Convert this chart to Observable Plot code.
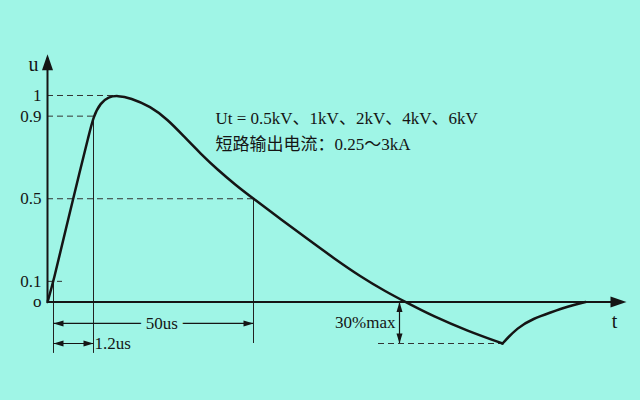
<!DOCTYPE html>
<html>
<head>
<meta charset="utf-8">
<script src="https://cdn.jsdelivr.net/npm/d3@7"></script>
<script src="https://cdn.jsdelivr.net/npm/@observablehq/plot@0.6"></script>
<style>
  html, body { margin: 0; padding: 0; background: #9ff5e6; }
  #chart { width: 640px; height: 400px; }
</style>
</head>
<body>
<div id="chart"></div>
<script>
// ---- data (time in diagram units, u relative to peak) ----
const waveT = [0, 1.5, 4.5, 8.25, 10.25, 11.5, 13.25, 15.25, 17.5, 20.75, 25.75, 30, 34, 38.25, 42.5, 47, 51.5, 58.25, 65, 71.5, 78.25, 84.5, 89.5, 96.5, 105, 113.75];
const waveU = [0, 0.1, 0.347, 0.646, 0.801, 0.9, 0.964, 0.993, 1.0, 0.988, 0.947, 0.884, 0.804, 0.719, 0.641, 0.567, 0.5, 0.402, 0.305, 0.213, 0.123, 0.051, 0, -0.07, -0.14, -0.201];
const tailT = [113.75, 117.5, 121.5, 125.75, 130, 134.5];
const tailU = [-0.201, -0.123, -0.08, -0.051, -0.022, 0];

const levelLabels = ["o", "0.1", "0.5", "0.9", "1"];
const levelValues = [0, 0.1, 0.5, 0.9, 1];

// key instants / levels
const t10 = 1.5, t90 = 11.5, tPeak = 17.5, t50 = 51.5, tUnder = 88, tMin = 113.75;
const uMin = -0.201;
const tAxisEnd = 144.75, uAxisEnd = 1.2;

const dimLabels = ["50us", "1.2us", "30%max"];
const infoLines = ["Ut = 0.5kV、1kV、2kV、4kV、6kV", "短路输出电流：0.25～3kA"];

// ---- build tables ----
const wave = waveT.map((t, i) => ({t, u: waveU[i], seg: "a"}))
  .concat(tailT.map((t, i) => ({t, u: tailU[i], seg: "b"})));

const guides = [
  {u: 1, t1: 0, t2: tPeak},
  {u: 0.9, t1: 0, t2: t90},
  {u: 0.5, t1: 0, t2: t50},
  {u: 0.1, t1: 0, t2: 3.75},
  {u: uMin, t1: 82.75, t2: tMin}
];
const verticals = [
  {t: t10, u1: 0.1, u2: -0.249},
  {t: t90, u1: 0.9, u2: -0.249},
  {t: t50, u1: 0.5, u2: uMin}
];
const uDim50 = -0.104;
const dims = [
  {u: uDim50, t1: t10, t2: t50},
  {u: uMin, t1: t10, t2: t90}
];

const bigHead = {draw(ctx) { ctx.moveTo(0, 0); ctx.lineTo(5.5, 16); ctx.lineTo(-5.5, 16); ctx.closePath(); }};
const smallHead = {draw(ctx) { ctx.moveTo(0, 0); ctx.lineTo(3, 10); ctx.lineTo(-3, 10); ctx.closePath(); }};

const bigHeads = [{t: 0, u: uAxisEnd, r: 0}, {t: tAxisEnd, u: 0, r: 90}];
const smallHeads = [
  {t: t10, u: uDim50, r: -90}, {t: t50, u: uDim50, r: 90},
  {t: t10, u: uMin, r: -90}, {t: t90, u: uMin, r: 90},
  {t: tUnder, u: 0, r: 0}, {t: tUnder, u: uMin, r: 180}
];

const ink = "#151515";
const bg = "#9ff5e6";
const serif = "'Liberation Serif', 'Times New Roman', 'Noto Sans CJK SC', serif";

const chart = Plot.plot({
  width: 640,
  height: 400,
  margin: 0,
  style: {background: bg, fontFamily: serif},
  x: {domain: [-11.75, 148.25], axis: null},
  y: {domain: [-0.477, 1.46], axis: null},
  marks: [
    Plot.ruleY(guides, {y: "u", x1: "t1", x2: "t2", stroke: "#333", strokeWidth: 1, strokeDasharray: "6,4"}),
    Plot.ruleX(verticals, {x: "t", y1: "u1", y2: "u2", stroke: "#222", strokeWidth: 1}),
    Plot.ruleY(dims, {y: "u", x1: "t1", x2: "t2", stroke: ink, strokeWidth: 1.2}),
    Plot.ruleX([tUnder], {x: d => d, y1: 0, y2: uMin, stroke: ink, strokeWidth: 1.2}),
    Plot.ruleY([0], {y: d => d, x1: 0, x2: tAxisEnd - 2, stroke: ink, strokeWidth: 2}),
    Plot.ruleX([0], {x: d => d, y1: 0, y2: uAxisEnd - 0.02, stroke: ink, strokeWidth: 2}),
    Plot.line(wave, {x: "t", y: "u", z: "seg", curve: "basis", stroke: ink, strokeWidth: 2.5}),
    Plot.dot(bigHeads, {x: "t", y: "u", rotate: "r", symbol: bigHead, fill: ink, stroke: "none"}),
    Plot.dot(smallHeads, {x: "t", y: "u", rotate: "r", symbol: smallHead, fill: ink, stroke: "none"}),
    Plot.text(levelLabels, {x: -1.5, y: (d, i) => levelValues[i], text: d => d, textAnchor: "end", fontSize: 17, fill: ink, fontFamily: serif}),
    Plot.text(["u"], {x: -3.5, y: 1.15, text: d => d, fontSize: 20, fill: ink, fontFamily: serif}),
    Plot.text(["t"], {x: 141.75, y: -0.094, text: d => d, fontSize: 20, fill: ink, fontFamily: serif}),
    Plot.text(infoLines, {x: 42, y: (d, i) => [0.889, 0.763][i], text: d => d, textAnchor: "start", fontSize: 17, fill: ink, fontFamily: serif}),
    Plot.text([dimLabels[0]], {x: 28.6, y: uDim50, text: d => d, fontSize: 17, fill: ink, fontFamily: serif, stroke: bg, strokeWidth: 12, paintOrder: "stroke"}),
    Plot.text([dimLabels[1]], {x: t90, y: uMin, dx: 1, text: d => d, textAnchor: "start", fontSize: 17, fill: ink, fontFamily: serif}),
    Plot.text([dimLabels[2]], {x: 87, y: -0.099, text: d => d, textAnchor: "end", fontSize: 17, fill: ink, fontFamily: serif})
  ]
});
document.getElementById("chart").appendChild(chart);
</script>
</body>
</html>
